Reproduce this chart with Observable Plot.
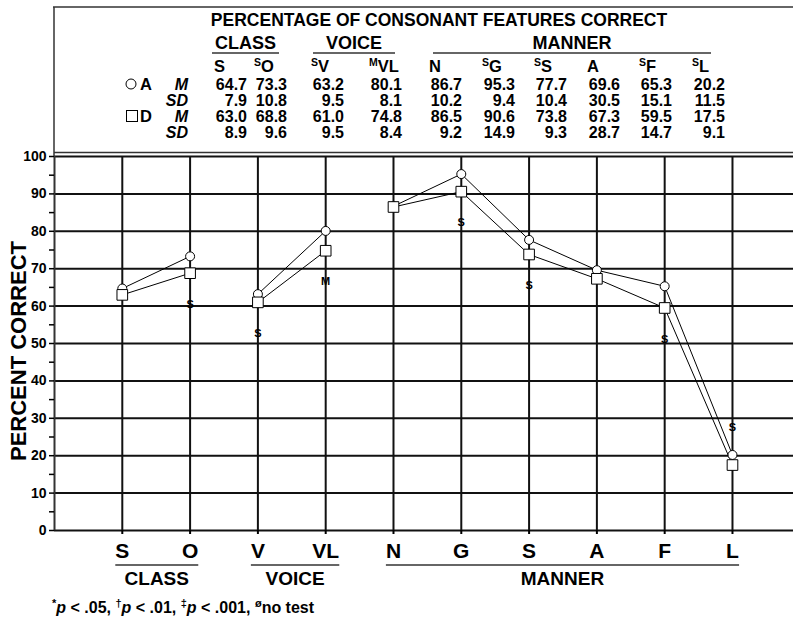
<!DOCTYPE html>
<html>
<head>
<meta charset="utf-8">
<script src="https://cdn.jsdelivr.net/npm/d3@7"></script>
<script src="https://cdn.jsdelivr.net/npm/@observablehq/plot@0.6"></script>
<style>
  html, body { margin: 0; padding: 0; background: #fff; }
  #wrap { position: relative; width: 793px; height: 620px; overflow: hidden; background: #fff; font-family: "Liberation Sans", Arial, sans-serif; }
  #wrap svg { position: absolute; left: 0; top: 0; }
</style>
</head>
<body>
<div id="wrap"></div>
<script>
// ---- data ----
const categories = ["S", "O", "V", "VL", "N", "G", "S", "A", "F", "L"];
const groups     = ["CLASS", "CLASS", "VOICE", "VOICE", "MANNER", "MANNER", "MANNER", "MANNER", "MANNER", "MANNER"];
const sigMarks   = ["", "S", "S", "M", "", "S", "S", "", "S", "S"];
const meanA = [64.7, 73.3, 63.2, 80.1, 86.7, 95.3, 77.7, 69.6, 65.3, 20.2];
const sdA   = [7.9, 10.8, 9.5, 8.1, 10.2, 9.4, 10.4, 30.5, 15.1, 11.5];
const meanD = [63.0, 68.8, 61.0, 74.8, 86.5, 90.6, 73.8, 67.3, 59.5, 17.5];
const sdD   = [8.9, 9.6, 9.5, 8.4, 9.2, 14.9, 9.3, 28.7, 14.7, 9.1];
const yTicks = [0, 10, 20, 30, 40, 50, 60, 70, 80, 90, 100];
const yMinorTicks = [5, 15, 25, 35, 45, 55, 65, 75, 85, 95];
const groupNames = ["CLASS", "VOICE", "MANNER"];
const title = "PERCENTAGE OF CONSONANT FEATURES CORRECT";
const yLabel = "PERCENT CORRECT";

// ---- derived rows ----
const idx = categories.map((_, i) => i + 1);
const rowsA = categories.map((c, i) => ({x: i + 1, v: meanA[i], g: groups[i]}));
const rowsD = categories.map((c, i) => ({x: i + 1, v: meanD[i], g: groups[i]}));
const sigRows = categories.map((c, i) => ({x: i + 1, s: sigMarks[i], a: meanA[i], d: meanD[i]})).filter(d => d.s);
const sigBelow = sigRows.filter(d => d.d >= 30);
const sigAbove = sigRows.filter(d => d.d < 30);

const W = 793, H = 620;
const FONT = "Liberation Sans, Arial, sans-serif";

const plot = Plot.plot({
  width: W, height: H,
  marginTop: 156, marginBottom: 90, marginLeft: 54, marginRight: 0,
  style: {fontFamily: FONT, background: "transparent", color: "#000", overflow: "visible"},
  x: {type: "linear", domain: [0, 10.9]},
  y: {domain: [0, 100]},
  marks: [
    Plot.ruleY(yTicks, {stroke: "#111", strokeWidth: 2}),
    Plot.ruleX(idx, {y1: 0, y2: 100, stroke: "#111", strokeWidth: 2}),
    Plot.ruleX([0], {y1: 0, y2: 100, stroke: "#333", strokeWidth: 2}),
    Plot.axisY({ticks: yTicks, tickSize: 5, tickPadding: 3, fontSize: 14, fontWeight: "bold", label: null, strokeWidth: 1.5}),
    Plot.axisY({ticks: yMinorTicks, tickSize: 5, tickFormat: () => "", label: null, strokeWidth: 1.5}),
    Plot.axisX({ticks: idx, tickSize: 4, tickPadding: 9, tickFormat: i => categories[i - 1], fontSize: 21, fontWeight: "bold", label: null, strokeWidth: 2}),
    Plot.line(rowsA, {x: "x", y: "v", z: "g", stroke: "#000", strokeWidth: 1}),
    Plot.line(rowsD, {x: "x", y: "v", z: "g", stroke: "#000", strokeWidth: 1}),
    Plot.dot(rowsA, {x: "x", y: "v", r: 4.5, fill: "#fff", stroke: "#000", strokeWidth: 1}),
    Plot.dot(rowsD, {x: "x", y: "v", symbol: "square", r: 6, fill: "#fff", stroke: "#000", strokeWidth: 1}),
    Plot.text(sigBelow, {x: "x", y: "d", text: "s", dy: 31, fontSize: 11, fontWeight: "bold", fill: "#000"}),
    Plot.text(sigAbove, {x: "x", y: "a", text: "s", dy: -27, fontSize: 11, fontWeight: "bold", fill: "#000"})
  ]
});

const wrap = document.getElementById("wrap");
wrap.appendChild(plot);

// ---- overlay: header table and bottom group labels ----
const svg = d3.select(wrap).append("svg")
  .attr("width", W).attr("height", H)
  .attr("font-family", FONT)
  .style("pointer-events", "none");

const xs = plot.scale("x");

// table box
const box = svg.append("g").attr("stroke", "#333").attr("stroke-width", 1.5).attr("fill", "none");
box.append("line").attr("x1", 53).attr("x2", W).attr("y1", 7).attr("y2", 7);
box.append("line").attr("x1", 54).attr("x2", 54).attr("y1", 7).attr("y2", 156);
box.append("line").attr("x1", 54).attr("x2", W).attr("y1", 152.5).attr("y2", 152.5);

svg.append("text").attr("x", 439).attr("y", 26).attr("text-anchor", "middle")
  .attr("font-size", 17.5).attr("font-weight", "bold").text(title);

// group headers in table
const colRight = [247, 287, 344, 402, 462, 515, 567, 620, 672, 725];
const headSpan = {CLASS: [212, 279], VOICE: [313, 395], MANNER: [433, 711]};
groupNames.forEach(g => {
  const [a, b] = headSpan[g];
  svg.append("text").attr("x", (a + b) / 2).attr("y", 49).attr("text-anchor", "middle")
    .attr("font-size", 18).attr("font-weight", "bold").text(g);
  svg.append("line").attr("x1", a).attr("x2", b).attr("y1", 53).attr("y2", 53)
    .attr("stroke", "#333").attr("stroke-width", 1.5);
});

// column headers
categories.forEach((c, i) => {
  const t = svg.append("text").attr("x", colRight[i] - 33).attr("y", 72)
    .attr("font-weight", "bold").attr("font-size", 16.5);
  if (sigMarks[i]) {
    t.append("tspan").attr("font-size", 10.5).attr("dy", -6).text(sigMarks[i]);
    t.append("tspan").attr("dy", 6).text(c);
  } else {
    t.append("tspan").text(c);
  }
});

// rows
const rowBase = [90, 106, 122, 138];
const rowData = [meanA, sdA, meanD, sdD];
rowData.forEach((arr, r) => {
  arr.forEach((v, i) => {
    svg.append("text").attr("x", colRight[i]).attr("y", rowBase[r]).attr("text-anchor", "end")
      .attr("font-size", 16).attr("font-weight", "bold").text(v.toFixed(1));
  });
  svg.append("text").attr("x", 188).attr("y", rowBase[r]).attr("text-anchor", "end")
    .attr("font-size", 16).attr("font-weight", "bold").attr("font-style", "italic")
    .text(r % 2 === 0 ? "M" : "SD");
});
// legend symbols
svg.append("circle").attr("cx", 131).attr("cy", 84).attr("r", 5).attr("fill", "none").attr("stroke", "#000").attr("stroke-width", 1);
svg.append("text").attr("x", 140).attr("y", 90).attr("font-size", 16.5).attr("font-weight", "bold").text("A");
svg.append("rect").attr("x", 126.5).attr("y", 110.5).attr("width", 11).attr("height", 11).attr("fill", "none").attr("stroke", "#000").attr("stroke-width", 1);
svg.append("text").attr("x", 140).attr("y", 122).attr("font-size", 16.5).attr("font-weight", "bold").text("D");

// y label
svg.append("text").attr("transform", "translate(26,351) rotate(-90)").attr("text-anchor", "middle")
  .attr("font-size", 22).attr("font-weight", "bold").text(yLabel);

// bottom group labels and underlines, from the x scale and tick label extents
const wrapRect = wrap.getBoundingClientRect();
const tickTexts = Array.from(plot.querySelectorAll('[aria-label="x-axis tick label"] text'));
const ext = tickTexts.map(t => { const r = t.getBoundingClientRect(); return [r.left - wrapRect.left, r.right - wrapRect.left]; });
groupNames.forEach(g => {
  const ii = groups.map((gg, i) => gg === g ? i : -1).filter(i => i >= 0);
  const first = ii[0], last = ii[ii.length - 1];
  const a = ext[first] ? ext[first][0] : xs.apply(first + 1) - 8;
  const b = ext[last] ? ext[last][1] : xs.apply(last + 1) + 8;
  svg.append("line").attr("x1", a).attr("x2", b).attr("y1", 565).attr("y2", 565)
    .attr("stroke", "#333").attr("stroke-width", 1.5);
  svg.append("text").attr("x", (a + b) / 2).attr("y", 585).attr("text-anchor", "middle")
    .attr("font-size", 19).attr("font-weight", "bold").text(g);
});

// footnote
const fn = svg.append("text").attr("x", 52).attr("y", 613).attr("font-size", 16).attr("font-weight", "bold");
const parts = [["*", "p", " < .05, "], ["\u2020", "p", " < .01, "], ["\u2021", "p", " < .001, "], ["\u00f8", "", "no test"]];
parts.forEach(([sup, it, rest]) => {
  fn.append("tspan").attr("font-size", 11).attr("dy", -6).text(sup);
  if (it) {
    fn.append("tspan").attr("dy", 6).attr("font-style", "italic").text(it);
    fn.append("tspan").text(rest);
  } else {
    fn.append("tspan").attr("dy", 6).text(rest);
  }
});
</script>
</body>
</html>
